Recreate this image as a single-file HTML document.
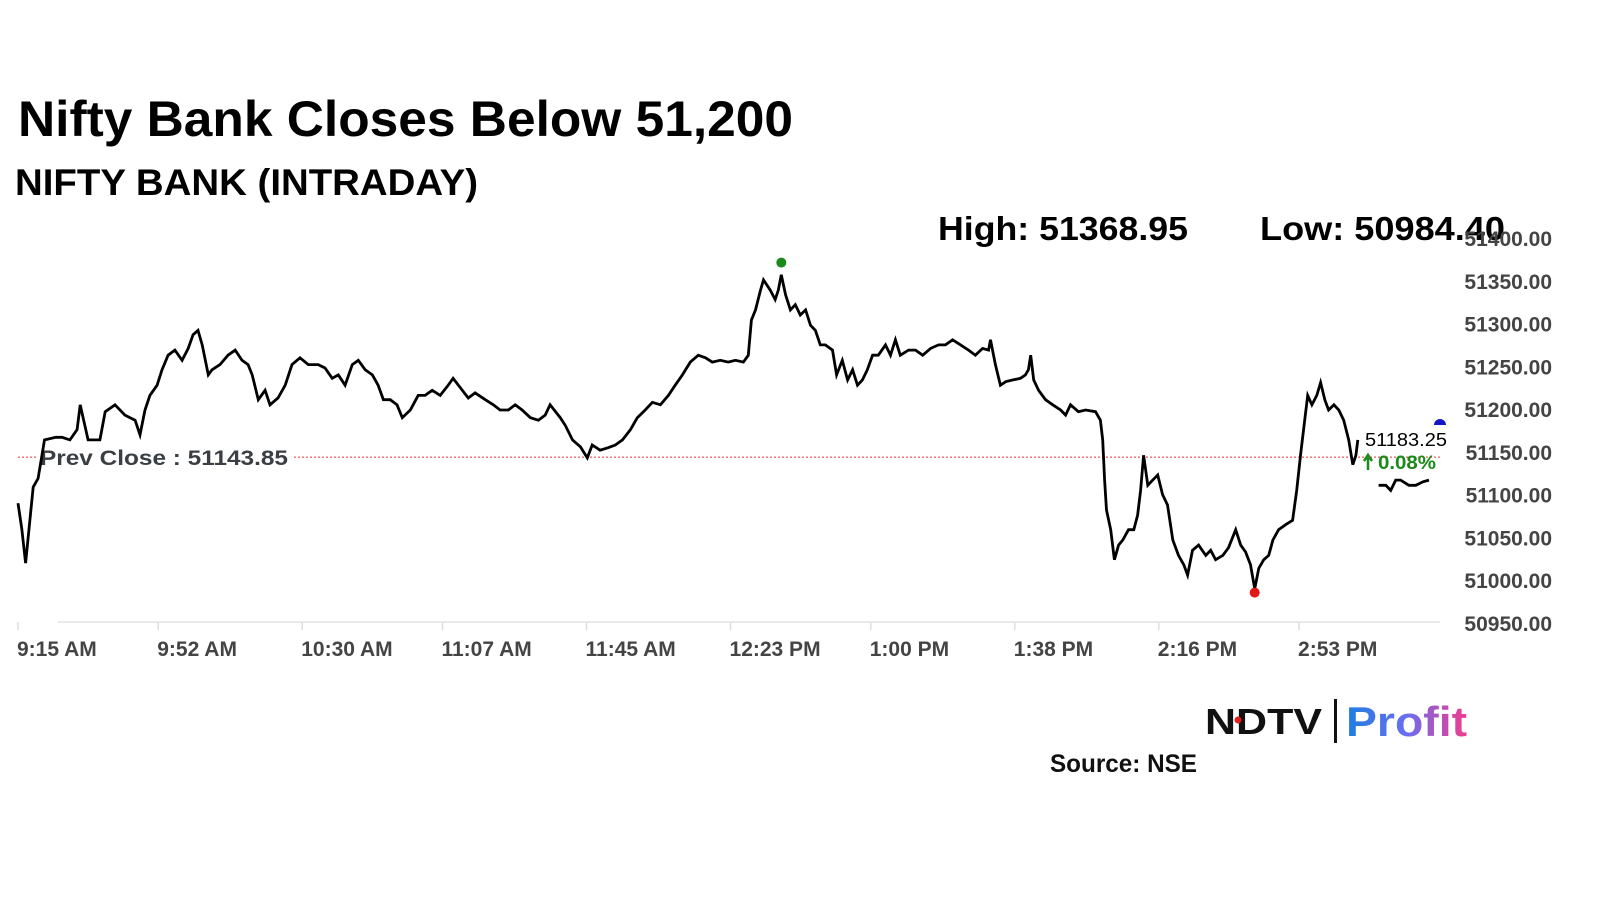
<!DOCTYPE html>
<html><head><meta charset="utf-8">
<style>
html,body{margin:0;padding:0;background:#fff;}
svg{display:block;font-family:"Liberation Sans",sans-serif;}
</style></head>
<body>
<svg id="chart" width="1600" height="900" viewBox="0 0 1600 900">
<text x="18" y="136" font-size="50" font-weight="bold" fill="#000" textLength="775" lengthAdjust="spacingAndGlyphs">Nifty Bank Closes Below 51,200</text>
<text x="15" y="195" font-size="37" font-weight="bold" fill="#000" textLength="463" lengthAdjust="spacingAndGlyphs">NIFTY BANK (INTRADAY)</text>
<text x="938" y="240" font-size="33" font-weight="bold" fill="#000" textLength="250" lengthAdjust="spacingAndGlyphs">High: 51368.95</text>
<text x="1260" y="240" font-size="33" font-weight="bold" fill="#000" textLength="245" lengthAdjust="spacingAndGlyphs">Low: 50984.40</text>
<g id="yaxis"></g>
<g id="xaxis"></g>
<line x1="58" y1="622" x2="1440" y2="622" stroke="#e3e3e3" stroke-width="1.5"/>
<g id="prev"></g>
<g id="series"></g>
<text x="1365" y="446" font-size="18" fill="#000" textLength="82" lengthAdjust="spacingAndGlyphs">51183.25</text>
<path d="M1368,470 L1368,458 M1364,461 L1368,455 L1372,461" stroke="#1a8a1a" stroke-width="2.5" fill="none"/>
<text x="1378" y="469" font-size="19" font-weight="bold" fill="#1a8a1a" textLength="58" lengthAdjust="spacingAndGlyphs">0.08%</text>
<path d="M1434,425 A6,6 0 0 1 1446,425 Z" fill="#1515c8"/>
<text x="1205" y="734" font-size="36" font-weight="bold" fill="#111" textLength="117" lengthAdjust="spacingAndGlyphs">NDTV</text>
<circle cx="1238" cy="720" r="3.5" fill="#e02020"/>
<rect x="1334" y="699" width="3" height="44" fill="#111"/>
<defs><linearGradient id="pg" x1="0" x2="1"><stop offset="0" stop-color="#1e7fe0"/><stop offset="0.5" stop-color="#6a6ef0"/><stop offset="1" stop-color="#f03c8c"/></linearGradient></defs>
<text x="1346" y="736" font-size="42" font-weight="bold" fill="url(#pg)" textLength="121" lengthAdjust="spacingAndGlyphs">Profit</text>
<text x="1050" y="772" font-size="25" font-weight="bold" fill="#111" textLength="147" lengthAdjust="spacingAndGlyphs">Source: NSE</text>
</svg>
<script>
const yTicks=[51400,51350,51300,51250,51200,51150,51100,51050,51000,50950];
const xTickLabels=["9:15 AM","9:52 AM","10:30 AM","11:07 AM","11:45 AM","12:23 PM","1:00 PM","1:38 PM","2:16 PM","2:53 PM"];
const xTickMinutes=[0,37,75,112,150,188,225,263,301,338];
const prevClose=51143.85;
const minutes=[0,1,2,4,5.3,7,10,11.6,13.7,15.6,16.4,18.5,21.6,23,25.6,28.2,30.9,32.2,33.5,34.8,36.7,38,39.6,41.4,43.3,44.9,46.2,47.5,48.6,50.2,51.2,53.3,55.4,57.3,59.1,60.7,61.8,63.4,65.2,66.5,68.6,70.5,72.3,74.4,76.6,79.2,81,82.9,84.5,86.3,88.2,89.8,91.6,93.5,95,96.4,98.2,100,101.4,103.5,105.6,107.4,109.3,111.4,113.5,114.8,116.7,118.8,120.6,123.3,125.4,127.2,129.4,131.2,133,135.2,137.3,139.1,140.4,143.1,144.4,146.3,148.4,150.2,151.5,153.6,155.8,157.6,159.5,161.6,163.4,165.5,167.4,169.5,171.6,173.4,175.3,177.4,179.5,181.4,183.2,185.3,187.4,189.3,191.4,192.7,193.5,194.6,195.9,196.7,198.5,199.8,200.6,201.4,202.5,203.8,205.1,206.4,207.8,209.1,210.4,211.7,213,214.9,216,217.5,218.9,220.2,221.5,222.8,224.1,225.5,227,228.9,230.2,231.5,232.8,235,236.8,238.7,240.8,242.9,244.7,246.6,248.7,250.8,252.6,254.5,256.1,256.6,257.9,259.2,260.6,262.4,264.5,265.8,266.6,267.2,268,269.3,271.1,273,275.1,276.4,277.7,279.8,281.7,284.3,285.6,286.2,286.7,287.2,288.3,289.3,290.4,291.5,293,294.4,295.4,296.2,297,298.1,299.4,300.7,302,303.3,304.7,306.2,307.6,308.6,309.9,311.5,313.4,314.7,316,317.9,319.4,321.3,322.6,323.9,325.2,326.3,327.4,328.7,330,331.1,332.6,334.5,336.3,337.4,338.4,339.5,340.3,341.4,342.7,343.7,344.8,345.8,347.2,348.5,349.8,351.1,352.2,353,353.5];
const prices=[51090,51060,51020,51109,51119,51164,51167,51167,51164,51176,51205,51164,51164,51197,51205,51193,51187,51170,51199,51216,51228,51246,51263,51269,51257,51271,51287,51292,51275,51240,51246,51252,51263,51269,51257,51252,51240,51211,51222,51205,51213,51228,51252,51260,51252,51252,51248,51236,51240,51228,51252,51257,51246,51240,51228,51211,51211,51205,51190,51199,51216,51216,51222,51216,51228,51236,51225,51213,51219,51211,51205,51199,51199,51205,51199,51190,51187,51193,51205,51190,51181,51164,51156,51143,51158,51152,51155,51158,51164,51176,51190,51199,51208,51205,51216,51228,51240,51255,51263,51260,51255,51257,51255,51257,51255,51263,51304,51316,51339,51351,51339,51328,51339,51357,51334,51316,51322,51310,51316,51298,51292,51275,51275,51269,51240,51257,51234,51246,51228,51234,51246,51263,51263,51275,51263,51281,51263,51269,51269,51263,51271,51275,51275,51281,51275,51269,51263,51271,51269,51281,51252,51228,51232,51234,51236,51240,51246,51263,51234,51222,51211,51205,51199,51193,51205,51197,51199,51197,51187,51164,51117,51082,51059,51024,51041,51047,51059,51059,51076,51105,51146,51111,51117,51123,51100,51088,51047,51029,51018,51006,51035,51041,51029,51035,51024,51029,51038,51059,51041,51033,51018,50990,51014,51024,51029,51047,51059,51065,51070,51105,51146,51187,51216,51205,51216,51231,51211,51199,51205,51199,51187,51164,51135,51146,51164];
const tailMinutes=[359,360.9,362.2,363.5,364.8,367,368.8,370.7,372.3];
const tailPrices=[51111,51111,51105,51117,51117,51111,51111,51115,51117];
const dayHigh=51368.95, dayHighMinute=201.4;
const dayLow=50984.4, dayLowMinute=326.3;

const NS="http://www.w3.org/2000/svg";
function sx(m){return 18+m*3.79;}
function sy(v){return 238+(51400-v)*(385/450);}
function mk(tag,attrs,parent){const e=document.createElementNS(NS,tag);for(const k in attrs)e.setAttribute(k,attrs[k]);parent.appendChild(e);return e;}

const yax=document.getElementById('yaxis');
yTicks.forEach(v=>{
  const t=mk('text',{x:1552,y:sy(v)+8,'text-anchor':'end','font-size':21,'font-weight':'bold',fill:'#444'},yax);
  
  
  t.textContent=v.toFixed(2);
});
const xax=document.getElementById('xaxis');
xTickLabels.forEach((l,i)=>{
  const x=sx(xTickMinutes[i]);
  const tk=mk('line',{x1:x,y1:622,x2:x,y2:630,stroke:'#ddd','stroke-width':1.5},xax);
  
  
  const t=mk('text',{x:x-1,y:656,'font-size':21,'font-weight':'bold',fill:'#444'},xax);
  
  
  t.textContent=l;
});
const pg=document.getElementById('prev');
const pl=mk('line',{x1:18,y1:sy(prevClose),x2:1440,y2:sy(prevClose),stroke:'#e03030','stroke-width':1,'stroke-dasharray':'2,2'},pg);



const sg=document.getElementById('series');
function line(ms,vs,name){
  const d=ms.map((m,i)=>(i?'L':'M')+sx(m).toFixed(1)+','+sy(vs[i]).toFixed(1)).join(' ');
  const p=mk('path',{d:d,fill:'none',stroke:'#000','stroke-width':2.8,'stroke-linejoin':'miter'},sg);
  
  
}
line(minutes,prices,'price-line');
line(tailMinutes,tailPrices,'closing-session-line');

const rb=mk('rect',{x:36,y:sy(prevClose)-13,width:256,height:26,fill:'#fff'},pg);


const pt=mk('text',{x:40,y:sy(prevClose)+8,'font-size':21,'font-weight':'bold',fill:'#3a3f44',textLength:248,lengthAdjust:'spacingAndGlyphs'},pg);


pt.textContent='Prev Close : '+prevClose.toFixed(2);

const hm=mk('circle',{cx:sx(dayHighMinute),cy:sy(dayHigh)-2,r:5,fill:'#1a8a1a'},sg);


const lm=mk('circle',{cx:sx(dayLowMinute),cy:sy(dayLow)-1,r:5,fill:'#e01818'},sg);


</script>
</body></html>
